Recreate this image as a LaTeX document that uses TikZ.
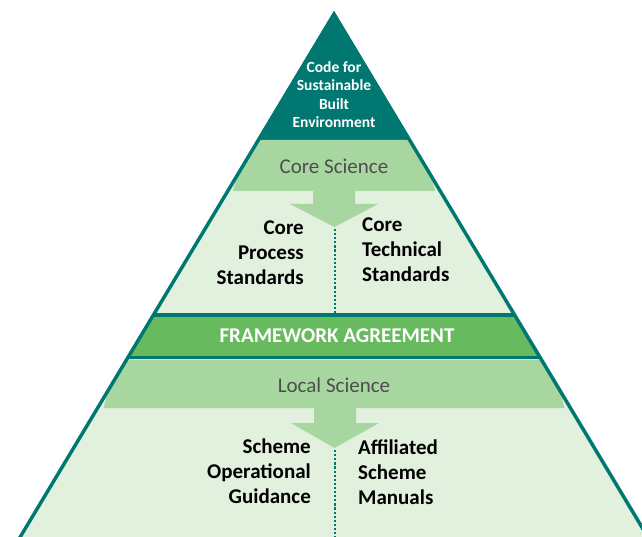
\documentclass[tikz,border=0pt]{standalone}
\usepackage{fontspec}
\setmainfont{Carlito}
\definecolor{tealzero}{RGB}{0,120,113}
\definecolor{gband}{RGB}{168,214,160}
\definecolor{glight}{RGB}{226,240,222}
\definecolor{gmid}{RGB}{104,186,95}
\definecolor{graytxt}{RGB}{77,77,77}
\begin{document}
\begin{tikzpicture}[x=1pt,y=-1pt,
  lbl/.style={font=\bfseries\fontsize{21}{25}\selectfont, inner sep=0pt, text=black},
  toplbl/.style={font=\bfseries\fontsize{15.5}{18.5}\selectfont, inner sep=0pt, text=white, align=center},
  bandlbl/.style={font=\fontsize{21}{25}\selectfont, inner sep=0pt, text=graytxt},
  fwlbl/.style={font=\bfseries\fontsize{21}{25}\selectfont, inner sep=0pt, text=white},
  sep/.style={draw=tealzero, line width=3.5pt},
  dotline/.style={draw=tealzero, line width=2.2pt, dash pattern=on 2.2pt off 1.9pt},
  outline/.style={draw=tealzero, line width=3.5pt, line join=miter}]
\useasboundingbox (0,0) rectangle (642,537);
\clip (0,0) rectangle (642,537);
% pyramid corners
\coordinate (apex) at (334,14);
\coordinate (bl) at ({334-0.6*(600-14)},600);
\coordinate (br) at ({334+0.6*(600-14)},600);
\begin{scope}
  \clip (apex) -- (br) -- (bl) -- cycle;
  \fill[glight] (apex) -- (br) -- (bl) -- cycle;
  % top dark triangle
  \fill[tealzero] (0,0) rectangle (642,140);
  % core science band
  \fill[gband] ({334-0.6*(140-14)-10},140) -- ({334+0.6*(140-14)+10},140)
     -- ({334+0.6*(191-14)-5},191) -- ({334-0.6*(191-14)+5},191) -- cycle;
  % core arrow
  \fill[gband] (313,185) -- (355,185) -- (355,204) -- (378,204) -- (334.5,227)
     -- (290,204) -- (313,204) -- cycle;
  % framework band
  \fill[gmid] (0,315) rectangle (642,357.7);
  \draw[sep] (0,315) -- (642,315);
  \draw[sep] (0,357.7) -- (642,357.7);
  % local science band
  \fill[gband] ({334-0.6*(359.5-14)-10},359.5) -- ({334+0.6*(359.5-14)+10},359.5)
     -- ({334+0.6*(408-14)-6},408) -- ({334-0.6*(408-14)+6},408) -- cycle;
  % local arrow
  \fill[gband] (314,402) -- (356,402) -- (356,423) -- (379,423) -- (334.5,448)
     -- (291,423) -- (314,423) -- cycle;
\end{scope}
% dotted dividers
\coordinate (d1a) at (335,229);
\coordinate (d1b) at (335,313);
\coordinate (d2a) at (335,450);
\coordinate (d2b) at (335,540);
\draw[dotline] (d1a) -- (d1b);
\draw[dotline] (d2a) -- (d2b);
% outline
\draw[outline] (bl) -- (apex) -- (br);
% texts (base anchor = baseline of the last line)
\node[toplbl, anchor=base] (top) at (334,128) {Code for\\Sustainable\\Built\\Environment};
\node[bandlbl, anchor=base] (cs) at (334,174) {Core Science};
\node[lbl, align=right, anchor=base east] (cps) at (304,284) {Core\\Process\\Standards};
\node[lbl, align=left, anchor=base west] (cts) at (362,281.7) {Core\\Technical\\Standards};
\node[fwlbl, anchor=base] (fw) at (337,342.7) {FRAMEWORK AGREEMENT};
\node[bandlbl, anchor=base] (ls) at (334,392.7) {Local Science};
\node[lbl, align=right, anchor=base east] (sog) at (311,503.5) {Scheme\\Operational\\Guidance};
\node[lbl, align=left, anchor=base west] (asm) at (358,504) {Affiliated\\Scheme\\Manuals};
\end{tikzpicture}
\end{document}
